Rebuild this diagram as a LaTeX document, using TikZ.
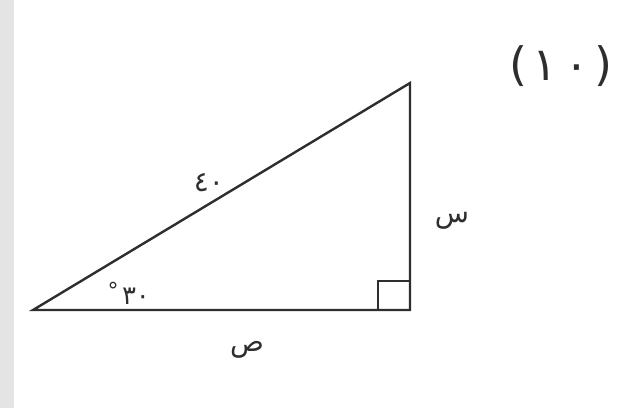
\documentclass[tikz,border=0pt]{standalone}
\usepackage{fontspec}
\newfontfamily\arabicfont[Script=Arabic]{DejaVu Sans}
\newfontfamily\plainfont{DejaVu Sans}
\TeXXeTstate=1
\definecolor{ink}{HTML}{2E2E2E}
\definecolor{scan}{HTML}{E4E4E4}
\begin{document}
\begin{tikzpicture}[x=1pt,y=-1pt,
  side/.style={draw=ink,line width=2.4pt,line join=miter},
  lbl/.style={font=\arabicfont\fontsize{28}{30}\selectfont,text=ink,inner sep=0pt}]
\useasboundingbox (0,0) rectangle (640,408);
\fill[white] (0,0) rectangle (640,408);
\fill[scan] (0,0) rectangle (14,408);
\coordinate (A) at (33,310);
\coordinate (B) at (410,310);
\coordinate (C) at (410,83);
\draw[side] (A) -- (B) -- (C) -- cycle;
\draw[draw=ink,line width=2pt] (378,310) -- (378,281) -- (410,281);
\node[lbl] (hyp) at (209,183) {٤٠};
\node[lbl] (opp) at (452,221) {\beginR س\endR};
\node[lbl] (adj) at (247,350) {\beginR ص\endR};
\node[lbl,font=\arabicfont\fontsize{26}{28}\selectfont] (ang) at (136,296) {٣٠};
\node[lbl,font=\arabicfont\fontsize{22}{24}\selectfont] (deg) at (113,290) {°};
\node[lbl,font=\fontsize{46}{50}\selectfont] (num) at (561,66) {{\plainfont(}\kern5pt{\arabicfont ١}\kern8pt{\arabicfont ٠}\kern5pt{\plainfont)}};
\end{tikzpicture}
\end{document}
